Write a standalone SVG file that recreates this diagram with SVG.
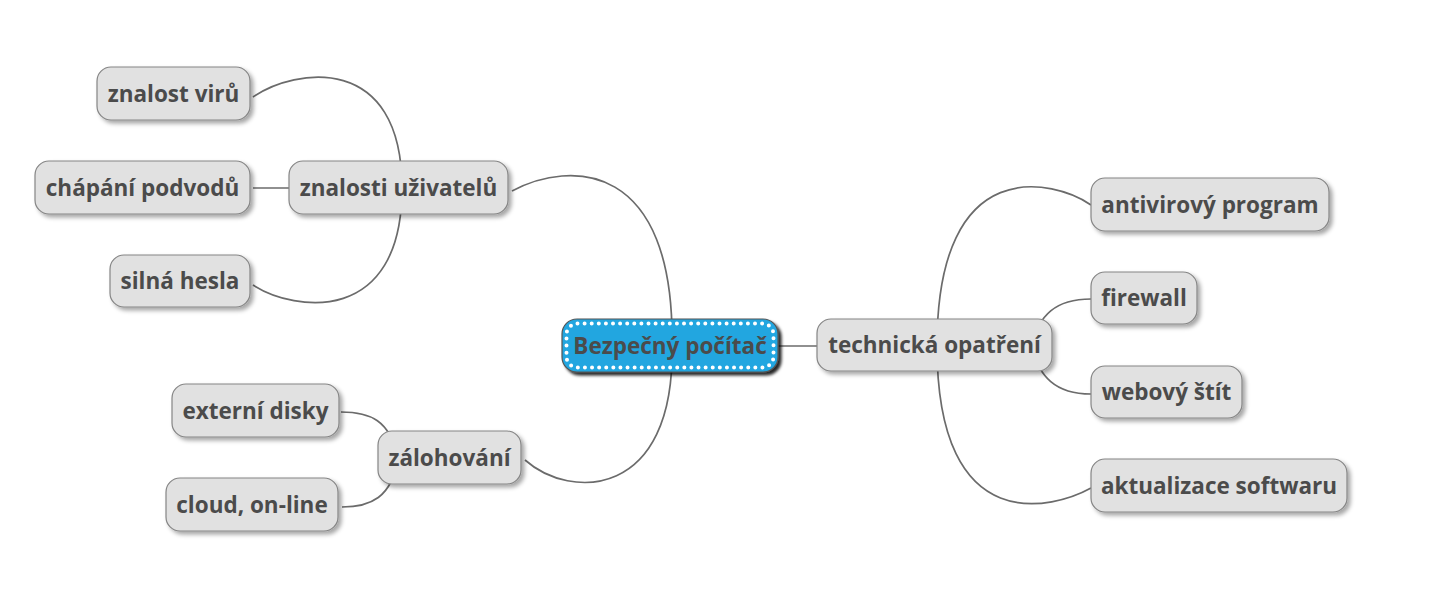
<svg xmlns="http://www.w3.org/2000/svg" width="1432" height="602" viewBox="0 0 1432 602">
<defs>
<filter id="sh" x="-10%" y="-20%" width="130%" height="150%">
<feDropShadow dx="3" dy="3" stdDeviation="2" flood-color="#000" flood-opacity="0.35"/>
</filter>
<filter id="shc" x="-10%" y="-20%" width="130%" height="150%">
<feDropShadow dx="3" dy="3" stdDeviation="1.5" flood-color="#000" flood-opacity="0.85"/>
</filter>
</defs>
<style>
.n rect.b{fill:#e1e1e1;stroke:#858585;stroke-width:1.2;filter:url(#sh)}
.c rect.b{fill:#22a6e0;stroke:#555;stroke-width:1.2;filter:url(#shc)}
.c rect.d{fill:none;stroke:#fff;stroke-width:4;stroke-linecap:round;stroke-dasharray:0 7.1}
text{font-family:"Open Sans","DejaVu Sans",sans-serif;font-weight:bold;font-size:22.5px;fill:#4b4b4b;text-anchor:middle}
#edges path{fill:none;stroke:#6b6b6b;stroke-width:1.7}
</style>
<g id="edges">
<path d="M778,346 L817,346"/>
<path d="M512,191 C570,160 675,160 672,346"/>
<path d="M525,460 C570,500 675,500 672,346"/>
<path d="M253,97 C295,68 402,52 402,188"/>
<path d="M253,188 L289,188"/>
<path d="M253,285 C295,312 402,326 402,188"/>
<path d="M341,412 C370,412 390,420 398,458"/>
<path d="M342,507 C370,507 392,498 398,458"/>
<path d="M1091,205 C1055,180 937,150 937,346"/>
<path d="M1091,299 C1055,299 1040,315 1030,346"/>
<path d="M1091,394 C1055,394 1040,377 1030,346"/>
<path d="M1091,488 C1055,508 937,542 937,346"/>
</g>
<g id="root" class="c">
<rect class="b" x="562" y="319" width="216" height="53" rx="15"/>
<rect class="d" x="566.5" y="323.5" width="207" height="44" rx="11"/>
<text x="670" y="354">Bezpečný počítač</text>
</g>
<g id="technicka" class="n">
<rect class="b" x="817" y="319" width="235" height="52" rx="14"/>
<text x="934.5" y="353">technická opatření</text>
</g>
<g id="znalosti" class="n">
<rect class="b" x="289" y="161" width="219" height="53" rx="14"/>
<text x="398.5" y="195.5">znalosti uživatelů</text>
</g>
<g id="zalohovani" class="n">
<rect class="b" x="378" y="431" width="143" height="53" rx="14"/>
<text x="449.5" y="465.5">zálohování</text>
</g>
<g id="viru" class="n">
<rect class="b" x="97" y="67" width="153" height="53" rx="14"/>
<text x="173.5" y="101.5">znalost virů</text>
</g>
<g id="podvodu" class="n">
<rect class="b" x="35" y="161" width="215" height="53" rx="14"/>
<text x="142.5" y="195.5">chápání podvodů</text>
</g>
<g id="hesla" class="n">
<rect class="b" x="110" y="255" width="140" height="52" rx="14"/>
<text x="180" y="289">silná hesla</text>
</g>
<g id="disky" class="n">
<rect class="b" x="172" y="384" width="167" height="53" rx="14"/>
<text x="255.5" y="418.5">externí disky</text>
</g>
<g id="cloud" class="n">
<rect class="b" x="166" y="478" width="172" height="53" rx="14"/>
<text x="252" y="512.5">cloud, on-line</text>
</g>
<g id="antivir" class="n">
<rect class="b" x="1091" y="178" width="238" height="53" rx="14"/>
<text x="1210" y="212.5">antivirový program</text>
</g>
<g id="firewall" class="n">
<rect class="b" x="1091" y="272" width="106" height="52" rx="14"/>
<text x="1144" y="306">firewall</text>
</g>
<g id="stit" class="n">
<rect class="b" x="1091" y="366" width="151" height="52" rx="14"/>
<text x="1166.5" y="400">webový štít</text>
</g>
<g id="aktualizace" class="n">
<rect class="b" x="1091" y="459" width="256" height="53" rx="14"/>
<text x="1219" y="493.5">aktualizace softwaru</text>
</g>
</svg>
